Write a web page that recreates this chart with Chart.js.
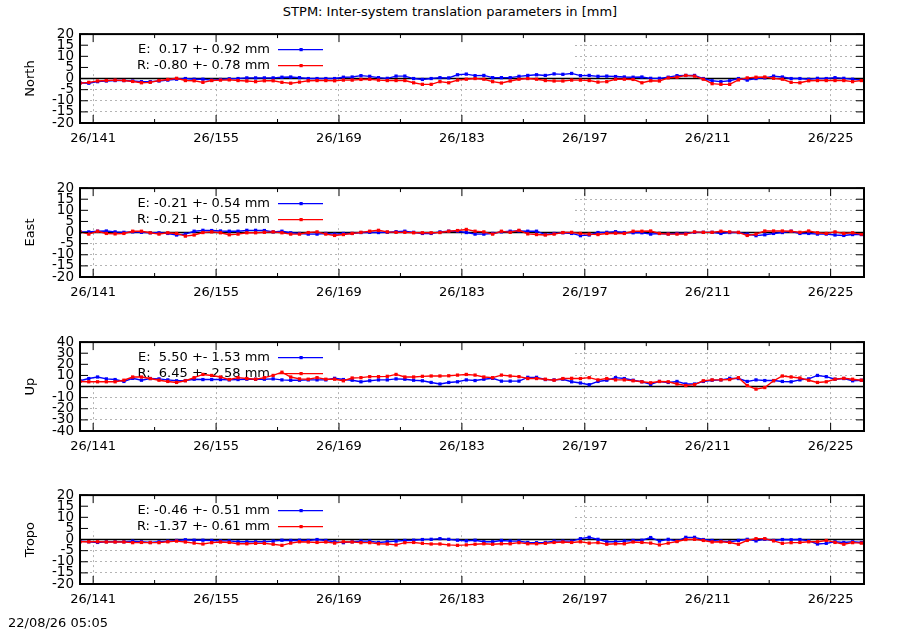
<!DOCTYPE html>
<html>
<head>
<meta charset="utf-8">
<script src="https://cdn.jsdelivr.net/npm/chart.js@4.4.0/dist/chart.umd.min.js"></script>
<style>
  body { margin: 0; background: #fff; width: 900px; height: 630px; overflow: hidden; position: relative; font-family: 'DejaVu Sans', sans-serif; color: #000; }
  #title { position: absolute; left: 0; top: 4px; width: 900px; text-align: center; font-size: 13px; z-index: 2; }
  #stamp { position: absolute; left: 8px; top: 615px; font-size: 13px; z-index: 2; }
  canvas { position: absolute; left: 0; }
</style>
</head>
<body>
<div id="title">STPM: Inter-system translation parameters in [mm]</div>
<canvas id="cNorth" width="900" height="140" style="top:20px"></canvas>
<canvas id="cEast" width="900" height="140" style="top:174px"></canvas>
<canvas id="cUp" width="900" height="140" style="top:328px"></canvas>
<canvas id="cTropo" width="900" height="140" style="top:481px"></canvas>
<div id="stamp">22/08/26 05:05</div>
<script>
// epochs (day of year 2026, daily solutions at noon)
const days = [139.5, 140.5, 141.5, 142.5, 143.5, 144.5, 145.5, 146.5, 147.5, 148.5,
  149.5, 150.5, 151.5, 152.5, 153.5, 154.5, 155.5, 156.5, 157.5, 158.5,
  159.5, 160.5, 161.5, 162.5, 163.5, 164.5, 165.5, 166.5, 167.5, 168.5,
  169.5, 170.5, 171.5, 172.5, 173.5, 174.5, 175.5, 176.5, 177.5, 178.5,
  179.5, 180.5, 181.5, 182.5, 183.5, 184.5, 185.5, 186.5, 187.5, 188.5,
  189.5, 190.5, 191.5, 192.5, 193.5, 194.5, 195.5, 196.5, 197.5, 198.5,
  199.5, 200.5, 201.5, 202.5, 203.5, 204.5, 205.5, 206.5, 207.5, 208.5,
  209.5, 210.5, 211.5, 212.5, 213.5, 214.5, 215.5, 216.5, 217.5, 218.5,
  219.5, 220.5, 221.5, 222.5, 223.5, 224.5, 225.5, 226.5, 227.5, 228.5];

const tickDays = [141, 155, 169, 183, 197, 211, 225];
const tickLabels = ['26/141', '26/155', '26/169', '26/183', '26/197', '26/211', '26/225'];
const minorDays = [148, 162, 176, 190, 204, 218];

const northE = [-1.9, -2.1, -1.4, -1.1, -0.9, -0.9, -1.1, -1.4, -1.4, -1.1,
  -0.7, -0.3, 0, -0.3, -0.3, -0.7, -0.4, -0.1, 0, 0.3,
  0.3, 0.3, 0.3, 0.6, 0.7, 0.4, 0, 0, 0, 0,
  0.6, 0.7, 1.3, 1.0, 0.4, 0.1, 1.1, 1.1, 0, -0.4,
  0, 0.4, 0.3, 1.7, 2.0, 1.3, 1.4, 0.4, 0.4, 0.4,
  1.0, 1.4, 1.7, 1.4, 2.1, 1.9, 2.3, 1.3, 1.4, 1.0,
  1.1, 0.9, 0.7, 0.6, 0.7, 0.1, 0.1, 0.6, 1.3, 1.4,
  1.4, 0, -1.0, -1.4, -1.0, 0, -0.7, 0, 0.3, 1.1,
  0.7, 0, 0, -0.3, 0.1, 0, 0.4, 0.1, -0.3, -0.6];
const northR = [-2.1, -1.7, -1.1, -0.9, -0.7, -0.9, -1.3, -1.9, -1.7, -0.9,
  -0.4, 0.1, -0.9, -1.0, -1.7, -0.9, -0.7, -0.6, -0.9, -1.1,
  -1.4, -1.0, -1.0, -1.7, -2.1, -1.6, -1.0, -0.9, -0.9, -1.0,
  -0.7, -0.7, -0.4, -0.3, -0.7, -0.9, -0.9, -0.9, -1.9, -2.6,
  -2.6, -1.4, -1.9, -0.7, -0.3, 0, -0.3, -1.4, -2.0, -1.1,
  -0.3, 0, -0.3, -0.9, -1.1, -1.1, -0.7, -0.7, -0.9, -1.6,
  -1.4, -0.3, -0.3, -0.4, -1.9, -1.0, -1.1, 0.3, 0.6, 1.4,
  1.1, -0.3, -2.3, -2.6, -2.6, -0.6, 0.3, 0.6, 0.7, 0.1,
  -0.3, -1.7, -1.9, -1.0, -0.9, -0.9, -0.9, -0.9, -1.4, -0.9];

const eastE = [0.3, 0.3, 0.6, 0.7, 0.3, 0.1, 0.3, 0.1, -0.1, -0.1,
  -0.4, -1.1, -0.7, 0.6, 1.0, 0.9, 0.7, 0.6, 0.6, 1.0,
  1.0, 0.9, 0.3, 0.6, -0.1, -0.4, -0.7, -0.7, -0.4, -0.7,
  -0.4, -0.4, 0, 0.1, 0, 0.1, 0.4, 0.6, 0.1, -0.4,
  -0.4, 0.3, 0.6, 0.6, 0, -0.7, -0.7, -0.4, 0.3, 0.6,
  0.7, 0.6, 0.6, -0.9, -0.4, -0.1, -0.4, -1.4, -1.1, 0,
  0.1, 0.4, 0, -0.1, -0.1, -0.7, -0.4, -0.6, -0.4, -0.4,
  0.1, 0.1, 0.1, -0.4, 0, 0, -0.7, -1.4, -1.0, -0.4,
  0, 0.6, -0.4, -0.4, -0.7, -0.7, -1.1, -1.3, -0.9, -0.9];
const eastR = [0.3, -0.7, 0.6, -0.4, -0.6, -0.4, 0.6, 0.6, -0.1, -0.7,
  -0.1, -0.4, -1.6, -1.1, 0, 0.3, -0.1, -1.0, -0.7, -0.1,
  -0.1, 0.1, 0.3, -0.1, -0.7, -0.7, 0, 0.3, -0.7, -1.3,
  -0.9, -0.4, 0.1, 0.6, 1.0, 0.3, 0.1, 0.1, -0.1, -0.1,
  -0.1, 0, 0.6, 0.9, 1.4, 0.6, 0.3, -0.7, 0.6, 0.1,
  1.0, -0.6, -0.9, -1.1, -0.7, 0, 0.1, -0.4, -0.7, -0.9,
  -0.4, -0.3, -0.4, 0.6, 0.6, 0.7, -0.4, -0.7, -0.7, -0.7,
  0.3, 0.1, 0.1, 0.6, 0.3, 0.1, -1.3, -0.7, 0.7, 0.7,
  0.7, 0.6, 0.1, 0.7, -0.1, -0.4, 0.3, -0.4, -0.1, -0.7];

const upE = [5.2, 7.2, 8.6, 6.9, 6.3, 4.6, 7.4, 5.7, 7.2, 6.9,
  6.0, 5.2, 5.4, 6.6, 6.3, 6.3, 6.3, 6.0, 6.3, 6.6,
  6.6, 6.6, 6.9, 6.0, 5.7, 5.7, 6.0, 6.0, 6.0, 7.4,
  6.3, 5.7, 4.3, 5.2, 6.0, 6.0, 6.9, 6.6, 5.7, 5.2,
  3.7, 2.3, 3.7, 4.3, 6.0, 5.4, 6.6, 7.4, 4.9, 4.9,
  4.9, 8.3, 8.3, 6.3, 6.0, 6.6, 4.3, 3.2, 1.7, 4.6,
  5.7, 8.0, 7.2, 5.7, 4.3, 2.0, 4.6, 3.7, 4.6, 2.3,
  2.3, 4.6, 5.7, 6.0, 7.4, 7.2, 4.6, 6.0, 5.4, 5.4,
  4.6, 4.3, 6.0, 6.9, 10.0, 8.9, 6.6, 7.2, 5.2, 5.7];
const upR = [4.6, 4.3, 4.3, 4.3, 4.3, 5.7, 8.6, 8.6, 7.2, 5.7,
  4.6, 3.7, 5.2, 8.0, 10.9, 10.0, 8.6, 6.3, 8.0, 7.2,
  6.6, 8.0, 10.0, 12.9, 8.6, 6.9, 6.6, 8.0, 6.6, 6.6,
  5.2, 7.7, 8.0, 8.9, 8.9, 9.2, 10.9, 8.6, 8.6, 9.2,
  9.5, 9.5, 9.7, 10.3, 10.9, 10.3, 8.6, 8.0, 10.3, 9.5,
  8.9, 7.2, 7.2, 6.6, 5.7, 7.2, 7.4, 7.2, 8.0, 6.0,
  7.2, 6.0, 6.0, 5.2, 4.3, 3.4, 4.6, 4.3, 2.3, 0.9,
  1.7, 5.2, 6.0, 6.0, 6.3, 8.0, 0.9, -2.3, -0.9, 5.2,
  9.5, 8.6, 7.7, 5.7, 3.7, 4.3, 6.6, 7.4, 6.6, 5.7];

const tropoE = [-0.7, -1.0, -1.3, -1.0, -1.0, -1.0, -0.7, -1.0, -1.3, -1.0,
  -0.7, -0.4, -0.1, -0.3, -0.3, -0.4, -0.6, -0.6, -1.0, -1.0,
  -1.0, -1.0, -0.7, -0.3, -0.4, -0.3, -0.4, 0, -0.4, -1.0,
  -1.4, -1.0, -0.7, -0.7, -1.3, -1.0, -0.7, -0.4, -0.3, 0,
  0.1, 0.4, 0.1, -0.3, -0.6, -0.3, -1.0, -1.0, -0.4, -0.7,
  -0.7, -1.3, -1.4, -1.3, -0.7, -0.7, -0.7, 0.4, 1.0, 0.1,
  -1.0, -1.0, -0.7, -0.4, -0.3, 0.9, -0.7, 0.1, -0.7, 1.0,
  1.0, 0, -0.4, -0.7, -1.0, -0.4, 0.1, -0.6, 0.1, -0.4,
  0, -0.1, 0, -0.6, -2.0, -1.7, -1.0, -1.3, -1.0, -1.3];
const tropoR = [-1.0, -1.0, -1.0, -1.1, -1.1, -1.1, -1.4, -1.3, -1.4, -1.4,
  -1.0, -0.7, -1.1, -1.6, -2.0, -1.4, -1.1, -1.3, -1.9, -1.9,
  -1.7, -1.7, -2.1, -2.6, -1.6, -1.0, -1.1, -1.3, -1.1, -1.6,
  -1.0, -1.1, -1.4, -1.4, -1.9, -2.0, -2.4, -1.4, -1.3, -1.7,
  -2.0, -2.0, -2.4, -2.6, -2.4, -2.1, -1.9, -2.1, -1.9, -1.9,
  -1.4, -1.9, -1.9, -1.7, -1.3, -1.1, -1.3, -1.0, -1.6, -1.4,
  -2.1, -1.9, -1.9, -1.1, -1.3, -1.6, -2.4, -1.6, -0.9, 0,
  0.1, -0.4, -1.1, -1.0, -1.3, -2.1, -0.4, 0.4, 0.4, -0.6,
  -1.7, -1.4, -1.3, -1.0, -1.0, -0.4, -1.3, -2.1, -1.4, -1.6];

// key statistics per panel: North, East, Up, Tropo
const meanE = [0.17, -0.21, 5.50, -0.46];
const sigmaE = [0.92, 0.54, 1.53, 0.51];
const meanR = [-0.80, -0.21, 6.45, -1.37];
const sigmaR = [0.78, 0.55, 2.58, 0.61];

const panelNames = ['North', 'East', 'Up', 'Tropo'];
const yLimits = [20, 20, 40, 20];
const ySteps = [5, 5, 10, 5];

const BLUE = '#0000ff';
const RED = '#ff0000';
const GRID = '#b4b4b4';
const FONT = '13px "DejaVu Sans"';

function keyText(name, mean, sigma) {
    let m = mean.toFixed(2);
    if (mean >= 0) m = ' ' + m;
    return `${name}: ${m} +- ${sigma.toFixed(2)} mm`;
}

function seg(ctx, x1, y1, x2, y2) {
    ctx.beginPath();
    ctx.moveTo(x1, y1);
    ctx.lineTo(x2, y2);
    ctx.stroke();
}

// gnuplot look: opaque key, zero axis, inward ticks on all sides, heavy frame
const gnuFrame = {
    id: 'gnuFrame',
    beforeDatasetsDraw(chart, args, opts) {
        const { ctx, chartArea: a, scales: { y } } = chart;
        ctx.save();
        ctx.fillStyle = '#fff';
        ctx.fillRect(a.left + 1, a.top + 1, a.width * 0.629, a.height * 0.4);

        ctx.strokeStyle = '#000';
        ctx.lineWidth = 1.6;
        const y0 = y.getPixelForValue(0);
        seg(ctx, a.left, y0, a.right, y0);

        ctx.font = FONT;
        ctx.textAlign = 'right';
        ctx.textBaseline = 'middle';
        opts.keys.forEach((k, i) => {
            const ky = a.top + 15.5 + i * 16;
            ctx.fillStyle = '#000';
            ctx.fillText(k.text, a.left + 190, ky);
            ctx.strokeStyle = k.color;
            ctx.lineWidth = 1.4;
            seg(ctx, a.left + 198, ky, a.left + 243, ky);
            ctx.fillStyle = k.color;
            ctx.fillRect(a.left + 219.5, ky - 1.6, 3.2, 3.2);
        });

        // y axis title
        ctx.fillStyle = '#000';
        ctx.textAlign = 'center';
        ctx.translate(31, (a.top + a.bottom) / 2);
        ctx.rotate(-Math.PI / 2);
        ctx.fillText(opts.name, 0, 0);
        ctx.restore();
    },
    afterDatasetsDraw(chart) {
        const { ctx, chartArea: a, scales: { x, y } } = chart;
        ctx.save();
        ctx.strokeStyle = '#000';
        ctx.lineWidth = 1;
        y.ticks.forEach(t => {
            const py = y.getPixelForValue(t.value);
            seg(ctx, a.left, py, a.left + 8, py);
            seg(ctx, a.right - 8, py, a.right, py);
        });
        x.ticks.forEach(t => {
            const px = x.getPixelForValue(t.value);
            seg(ctx, px, a.bottom, px, a.bottom - 8);
            seg(ctx, px, a.top, px, a.top + 8);
        });
        minorDays.forEach(d => {
            const px = x.getPixelForValue(d);
            seg(ctx, px, a.bottom, px, a.bottom - 4);
            seg(ctx, px, a.top, px, a.top + 4);
        });
        ctx.lineWidth = 2;
        ctx.strokeRect(a.left, a.top, a.width, a.height);
        ctx.restore();
    }
};

function makePanel(canvasId, idx, valsE, valsR) {
    const lim = yLimits[idx];
    return new Chart(document.getElementById(canvasId), {
        type: 'line',
        data: {
            datasets: [
                { data: days.map((d, i) => ({ x: d, y: valsR[i] })), borderColor: RED, backgroundColor: RED, order: 0 },
                { data: days.map((d, i) => ({ x: d, y: valsE[i] })), borderColor: BLUE, backgroundColor: BLUE, order: 1 }
            ]
        },
        options: {
            responsive: false,
            animation: false,
            devicePixelRatio: 1,
            events: [],
            layout: { padding: { top: 10, right: 36, left: 0, bottom: 0 } },
            elements: {
                line: { borderWidth: 1.4, tension: 0 },
                point: { radius: 2.3, borderWidth: 0, pointStyle: 'rect' }
            },
            plugins: {
                legend: { display: false },
                tooltip: { enabled: false },
                gnuFrame: {
                    name: panelNames[idx],
                    keys: [
                        { text: keyText('E', meanE[idx], sigmaE[idx]), color: BLUE },
                        { text: keyText('R', meanR[idx], sigmaR[idx]), color: RED }
                    ]
                }
            },
            scales: {
                x: {
                    type: 'linear',
                    min: 139.5,
                    max: 228.8,
                    afterBuildTicks: s => { s.ticks = tickDays.map(v => ({ value: v })); },
                    afterFit: s => { s.height = 37; },
                    ticks: {
                        autoSkip: false, maxRotation: 0, padding: 8, color: '#000',
                        font: { family: 'DejaVu Sans', size: 13 },
                        callback: (v, i) => tickLabels[i]
                    },
                    grid: { drawTicks: false, color: GRID, lineWidth: 1 },
                    border: { display: false, dash: [2, 3] }
                },
                y: {
                    min: -lim,
                    max: lim,
                    afterFit: s => { s.width = 80; },
                    ticks: {
                        stepSize: ySteps[idx], autoSkip: false, padding: 6, color: '#000',
                        font: { family: 'DejaVu Sans', size: 13.5 }
                    },
                    grid: {
                        drawTicks: false, lineWidth: 1,
                        color: c => (c.tick && (c.tick.value === 0 || Math.abs(c.tick.value) === lim)) ? 'rgba(0,0,0,0)' : GRID
                    },
                    border: { display: false, dash: [2, 3] }
                }
            }
        },
        plugins: [gnuFrame]
    });
}

makePanel('cNorth', 0, northE, northR);
makePanel('cEast', 1, eastE, eastR);
makePanel('cUp', 2, upE, upR);
makePanel('cTropo', 3, tropoE, tropoR);
</script>
</body>
</html>
